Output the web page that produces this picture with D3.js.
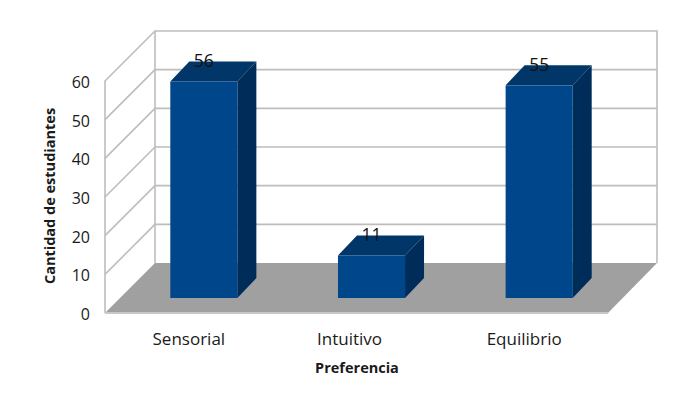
<!DOCTYPE html>
<meta charset="utf-8">
<style>
html, body { margin: 0; background: #fff; }
text { font-family: 'Open Sans', sans-serif; fill: #1a1a1a; }
</style>
<script src="https://d3js.org/d3.v7.min.js"></script>
<div id="chart"></div>
<script>
var categories = ["Sensorial", "Intuitivo", "Equilibrio"];
var values = [56, 11, 55];
var yTicks = [0, 10, 20, 30, 40, 50, 60];

var width = 699, height = 399;
var depth = 50,      // wall depth, in px on the diagonal
    barInset = 15,   // how far the bars sit behind the front edge
    barDepth = 19;

var svg = d3.select("#chart").append("svg")
  .attr("width", width)
  .attr("height", height)
  .style("display", "block");

var x = d3.scaleBand().domain(categories).range([105, 608]).paddingInner(0.6).paddingOuter(0.3);
var y = d3.scaleLinear().domain([0, 60]).range([313, 81]);

var x0 = x.range()[0], x1 = x.range()[1];
var line = d3.line();
var gridColor = "#bdbdbd";

// walls
svg.append("path")
  .attr("d", line([[x0, y(0)], [x0, y(60)], [x0 + depth, y(60) - depth], [x1 + depth - 1, y(60) - depth], [x1 + depth - 1, y(0) - depth]]))
  .attr("fill", "#fff")
  .attr("stroke", gridColor)
  .attr("stroke-width", 1.6);

// gridlines on both walls
svg.append("g").selectAll("path")
  .data(yTicks.slice(1, -1))
  .enter().append("path")
    .attr("d", function (d) {
      return line([[x0, y(d)], [x0 + depth, y(d) - depth], [x1 + depth - 1, y(d) - depth]]);
    })
    .attr("fill", "none")
    .attr("stroke", gridColor)
    .attr("stroke-width", 1.6);

svg.append("path")
  .attr("d", line([[x0 + depth, y(0) - depth], [x0 + depth, y(60) - depth]]))
  .attr("stroke", gridColor)
  .attr("stroke-width", 1.6);

// floor
svg.append("path")
  .attr("d", line([[x0, y(0)], [x1, y(0)], [x1 + depth - 1, y(0) - depth], [x0 + depth, y(0) - depth]]) + "Z")
  .attr("fill", "#a0a0a0");
svg.append("path")
  .attr("d", line([[x0, y(0)], [x1, y(0)]]))
  .attr("stroke", "#c8c8c8")
  .attr("stroke-width", 2);

// bars
var bars = svg.append("g").selectAll("g")
  .data(categories)
  .enter().append("g");

bars.append("path") // top
  .attr("d", function (d, i) {
    var l = x(d) + barInset, r = l + x.bandwidth(), t = y(values[i]) - barInset;
    return line([[l, t], [r, t], [r + barDepth, t - barDepth - 1], [l + barDepth, t - barDepth - 1]]) + "Z";
  })
  .attr("fill", "#003768");

bars.append("path") // side
  .attr("d", function (d, i) {
    var r = x(d) + barInset + x.bandwidth(), t = y(values[i]) - barInset, b = y(0) - barInset;
    return line([[r, t], [r + barDepth, t - barDepth - 1], [r + barDepth, b - barDepth - 1], [r, b]]) + "Z";
  })
  .attr("fill", "#002c5a");

bars.append("rect") // front
  .attr("x", function (d) { return x(d) + barInset; })
  .attr("y", function (d, i) { return y(values[i]) - barInset; })
  .attr("width", x.bandwidth())
  .attr("height", function (d, i) { return y(0) - y(values[i]); })
  .attr("fill", "#00468a");

bars.append("text")
  .attr("x", function (d) { return x(d) + barInset + x.bandwidth() / 2; })
  .attr("y", function (d, i) { return y(values[i]) - barInset - 14; })
  .attr("text-anchor", "middle")
  .attr("font-size", 17.5)
  .style("fill", "#111")
  .text(function (d, i) { return values[i]; });

// value axis
var yAxis = svg.append("g")
  .attr("transform", "translate(92,1.5)")
  .call(d3.axisLeft(y).tickValues(yTicks).tickSize(0).tickPadding(2));
yAxis.select(".domain").remove();
yAxis.selectAll("text")
  .attr("font-size", 16)
  .style("font-family", "'Open Sans', sans-serif")
  .style("fill", "#1a1a1a");

// category labels
svg.append("g").selectAll("text")
  .data(categories)
  .enter().append("text")
    .attr("x", function (d) {
      // the middle label sits left of its bar in the original
      return x(d) + x.bandwidth() / 2 + (d === "Intuitivo" ? -7 : 0);
    })
    .attr("y", 345)
    .attr("text-anchor", "middle")
    .attr("font-size", 17)
    .text(function (d) { return d; });

svg.append("text")
  .attr("x", 357)
  .attr("y", 373)
  .attr("text-anchor", "middle")
  .attr("font-size", 14.5)
  .attr("font-weight", "bold")
  .text("Preferencia");

svg.append("text")
  .attr("transform", "translate(55,196) rotate(-90)")
  .attr("text-anchor", "middle")
  .attr("font-size", 14.5)
  .attr("font-weight", "bold")
  .text("Cantidad de estudiantes");
</script>
